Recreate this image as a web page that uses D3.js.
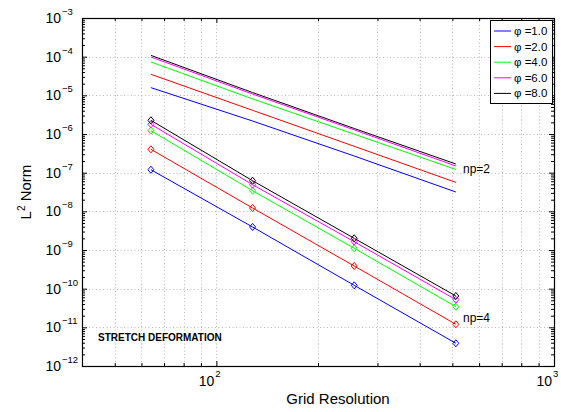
<!DOCTYPE html>
<html>
<head>
<meta charset="utf-8">
<script src="https://cdn.jsdelivr.net/npm/d3@7"></script>
<style>
  html, body { margin: 0; padding: 0; background: #fff; }
  svg { display: block; font-family: "Liberation Sans", Arial, Helvetica, sans-serif; }
</style>
</head>
<body>
<svg id="chart" width="561" height="412"></svg>
<script>
// Grid resolutions at which the error was measured
const resolution = [64, 128, 256, 512];

// Legend labels (value of phi for each series)
const phiLabels = ["1.0", "2.0", "4.0", "6.0", "8.0"];
const seriesColors = ["#0000ff", "#ff0000", "#00ff00", "#ff00ff", "#000000"];

// L2 error norms, np = 2 (plain lines)
const np2Phi1 = [1.58e-5, 2.17e-6, 2.7e-7, 3.16e-8];
const np2Phi2 = [3.5e-5, 4.1e-6, 4.81e-7, 5.6e-8];
const np2Phi4 = [7.3e-5, 8.09e-6, 9.9e-7, 1.21e-7];
const np2Phi6 = [9.8e-5, 1.08e-5, 1.28e-6, 1.49e-7];
const np2Phi8 = [1.08e-4, 1.18e-5, 1.39e-6, 1.68e-7];

// L2 error norms, np = 4 (lines with diamond markers)
const np4Phi1 = [1.19e-7, 3.94e-9, 1.22e-10, 3.87e-12];
const np4Phi2 = [4.02e-7, 1.22e-8, 3.86e-10, 1.2e-11];
const np4Phi4 = [1.22e-6, 3.42e-8, 1.11e-9, 3.42e-11];
const np4Phi6 = [1.78e-6, 4.89e-8, 1.64e-9, 5.19e-11];
const np4Phi8 = [2.26e-6, 6.2e-8, 2.01e-9, 6.47e-11];

// Axis tick exponents
const yTickExponents = [-12, -11, -10, -9, -8, -7, -6, -5, -4, -3];
const xTickExponents = [2, 3];

const np2 = [np2Phi1, np2Phi2, np2Phi4, np2Phi6, np2Phi8];
const np4 = [np4Phi1, np4Phi2, np4Phi4, np4Phi6, np4Phi8];

const svg = d3.select("#chart");
const plot = { left: 82, right: 554, top: 18, bottom: 366 };

const x = d3.scaleLog().domain([40, 1000]).range([plot.left, plot.right]);
const y = d3.scaleLog().domain([1e-12, 1e-3]).range([plot.bottom, plot.top]);

// Tick positions: decades plus 2..9 minor ticks
const xMajor = xTickExponents.map(e => Math.pow(10, e));
const xMinor = [];
for (let d = 1; d <= 2; d++) for (let k = 2; k <= 9; k++) {
  const v = k * Math.pow(10, d);
  if (v >= 40 && v < 1000) xMinor.push(v);
}
const yMajor = yTickExponents.map(e => Math.pow(10, e));
const yMinor = [];
for (let d = -12; d < -3; d++) for (let k = 2; k <= 9; k++) yMinor.push(k * Math.pow(10, d));

// Dotted grid
const grid = svg.append("g").attr("stroke", "#a8a8a8").attr("stroke-width", 0.8)
  .attr("stroke-dasharray", "1,2.5").attr("fill", "none");
grid.selectAll("line.vx").data(xMinor.concat([100]))
  .join("line")
  .attr("x1", d => Math.round(x(d)) + 0.5).attr("x2", d => Math.round(x(d)) + 0.5)
  .attr("y1", plot.top).attr("y2", plot.bottom);
grid.selectAll("line.hy").data(yMajor.filter(v => v > 1e-12 && v < 1e-3))
  .join("line")
  .attr("y1", d => Math.round(y(d)) + 0.5).attr("y2", d => Math.round(y(d)) + 0.5)
  .attr("x1", plot.left).attr("x2", plot.right);

// Axes (ticks pointing inward on all four sides)
const axisStyle = g => {
  g.select(".domain").remove();
  g.selectAll("text").remove();
  g.selectAll("line").attr("stroke", "#000").attr("stroke-width", 1);
};
svg.append("g").attr("transform", `translate(${plot.left},0)`)
  .call(d3.axisLeft(y).tickValues(yMajor).tickSize(-5)).call(axisStyle);
svg.append("g").attr("transform", `translate(${plot.left},0)`)
  .call(d3.axisLeft(y).tickValues(yMinor).tickSize(-3)).call(axisStyle);
svg.append("g").attr("transform", `translate(${plot.right},0)`)
  .call(d3.axisRight(y).tickValues(yMajor).tickSize(-5)).call(axisStyle);
svg.append("g").attr("transform", `translate(${plot.right},0)`)
  .call(d3.axisRight(y).tickValues(yMinor).tickSize(-3)).call(axisStyle);
svg.append("g").attr("transform", `translate(0,${plot.bottom})`)
  .call(d3.axisBottom(x).tickValues(xMajor).tickSize(-5)).call(axisStyle);
svg.append("g").attr("transform", `translate(0,${plot.bottom})`)
  .call(d3.axisBottom(x).tickValues(xMinor).tickSize(-3)).call(axisStyle);
svg.append("g").attr("transform", `translate(0,${plot.top})`)
  .call(d3.axisTop(x).tickValues(xMajor).tickSize(-5)).call(axisStyle);
svg.append("g").attr("transform", `translate(0,${plot.top})`)
  .call(d3.axisTop(x).tickValues(xMinor).tickSize(-3)).call(axisStyle);

// Frame
svg.append("rect")
  .attr("x", plot.left + 0.5).attr("y", plot.top + 0.5)
  .attr("width", plot.right - plot.left).attr("height", plot.bottom - plot.top)
  .attr("fill", "none").attr("stroke", "#000").attr("stroke-width", 1.2);

// Tick labels: 10 with superscript exponent
const yLab = svg.append("g").attr("font-size", 14).attr("fill", "#000");
yTickExponents.forEach(e => {
  const ty = y(Math.pow(10, e));
  yLab.append("text").attr("x", 61).attr("y", ty + 5).attr("text-anchor", "end").text("10");
  yLab.append("text").attr("x", 62).attr("y", ty - 3).attr("font-size", 9.5).text("\u2212" + (-e));
});
const xLab = svg.append("g").attr("font-size", 14).attr("fill", "#000");
xTickExponents.forEach(e => {
  const tx = x(Math.pow(10, e));
  xLab.append("text").attr("x", tx - 2).attr("y", 386).attr("text-anchor", "end").text("10");
  xLab.append("text").attr("x", tx - 1).attr("y", 377).attr("font-size", 9.5).text(String(e));
});

// Axis titles
svg.append("text").attr("x", 338).attr("y", 404).attr("text-anchor", "middle")
  .attr("font-size", 15).text("Grid Resolution");
const yt = svg.append("text").attr("transform", `translate(31,${(plot.top + plot.bottom) / 2}) rotate(-90)`)
  .attr("text-anchor", "middle").attr("font-size", 15);
yt.append("tspan").text("L");
yt.append("tspan").attr("dy", -6).attr("font-size", 10).text("2");
yt.append("tspan").attr("dy", 6).text(" Norm");

// Series
const line = d3.line().x((d, i) => x(resolution[i])).y(d => y(d));
const series = svg.append("g").attr("fill", "none").attr("stroke-width", 1);
np2.forEach((vals, s) => {
  series.append("path").attr("d", line(vals)).attr("stroke", seriesColors[s]);
});
np4.forEach((vals, s) => {
  series.append("path").attr("d", line(vals)).attr("stroke", seriesColors[s]);
});

// Compact diamond marker (slightly taller than wide)
const markerDiamond = {
  draw(ctx, size) {
    const h = Math.sqrt(size / 2.4), w = h * 0.85;
    ctx.moveTo(0, -h); ctx.lineTo(w, 0); ctx.lineTo(0, h); ctx.lineTo(-w, 0); ctx.closePath();
  }
};
const diamond = d3.symbol().type(markerDiamond).size(30);
np4.forEach((vals, s) => {
  series.selectAll(null).data(vals).join("path")
    .attr("transform", (d, i) => `translate(${x(resolution[i])},${y(d)})`)
    .attr("d", diamond).attr("stroke", seriesColors[s]).attr("fill", "none");
});

// Annotations
svg.append("text").attr("x", 463).attr("y", 173).attr("font-size", 12).text("np=2");
svg.append("text").attr("x", 463).attr("y", 322).attr("font-size", 12).text("np=4");
svg.append("text").attr("x", 98).attr("y", 341).attr("font-size", 10).attr("font-weight", "bold")
  .text("STRETCH DEFORMATION");

// Legend
const legend = svg.append("g");
legend.append("rect").attr("x", 490.5).attr("y", 20.5).attr("width", 62).attr("height", 83)
  .attr("fill", "#fff").attr("stroke", "#000").attr("stroke-width", 1);
phiLabels.forEach((lab, i) => {
  const ly = 31 + i * 15.6;
  legend.append("line").attr("x1", 494).attr("x2", 511).attr("y1", ly).attr("y2", ly)
    .attr("stroke", seriesColors[i]).attr("stroke-width", 1);
  legend.append("text").attr("x", 514).attr("y", ly + 4).attr("font-size", 11.5)
    .text("\u03c6 =" + lab);
});
</script>
</body>
</html>
